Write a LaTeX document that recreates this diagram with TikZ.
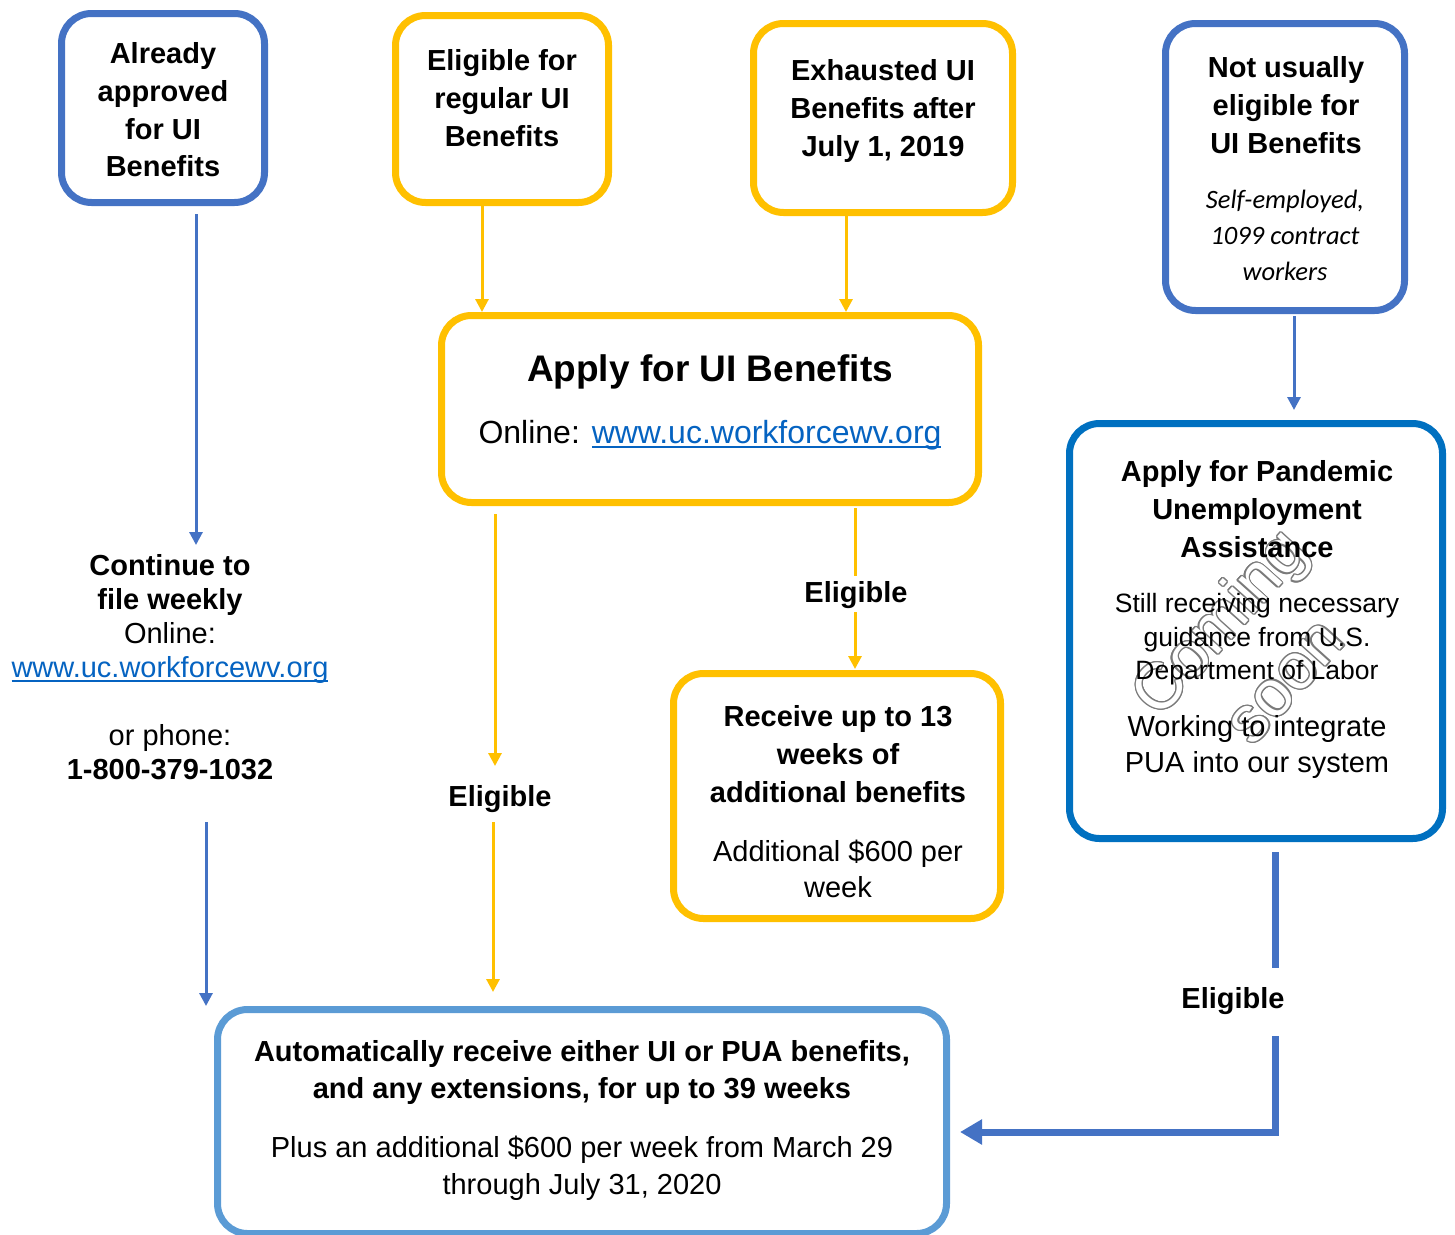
\documentclass[tikz,border=0pt]{standalone}
\usepackage{fontspec}
\setmainfont{Liberation Sans}
\newfontfamily\carl{Carlito}
\usetikzlibrary{arrows.meta}
\definecolor{bblue}{HTML}{4472C4}
\definecolor{gold}{HTML}{FFC000}
\definecolor{dblue}{HTML}{0070C0}
\definecolor{lblue}{HTML}{5B9BD5}
\definecolor{linkc}{HTML}{0563C1}
\definecolor{wmgray}{HTML}{7A7A7A}
\newcommand\ulink[1]{{\setbox0=\hbox{\textcolor{linkc}{#1}}\textcolor{linkc}{\rlap{\vrule height -2.5pt depth 4.5pt width \wd0}}\box0}}
\begin{document}
\begin{tikzpicture}[x=1pt,y=-1pt,
  box/.style={draw, line width=7pt, rounded corners=30pt, inner sep=0pt},
  tb/.style={align=center, inner sep=0pt, anchor=north, font=\fontsize{29}{37.7}\selectfont\bfseries},
  tr/.style={align=center, inner sep=0pt, anchor=north, font=\fontsize{29}{36.5}\selectfont},
  thinarrow/.style={line width=3pt, -{Triangle[width=13pt,length=13pt]}},
  thinline/.style={line width=3pt},
  thickarrow/.style={line width=7pt, line join=miter, -{Triangle[width=24pt,length=22pt]}},
  thickline/.style={line width=7pt}]
\useasboundingbox (0,0) rectangle (1455,1234);

% boxes
\node[box, draw=bblue, minimum width=203pt, minimum height=189pt] (b1) at (163,108) {};
\node[box, draw=gold, minimum width=213pt, minimum height=187pt] (b2) at (502,109) {};
\node[box, draw=gold, minimum width=259pt, minimum height=189pt] (b3) at (883,118) {};
\node[box, draw=bblue, minimum width=239pt, minimum height=287pt] (b4) at (1285,167) {};
\node[box, draw=gold, minimum width=537pt, minimum height=187pt] (b5) at (710,409) {};
\node[box, draw=dblue, minimum width=373pt, minimum height=415pt] (b6) at (1256,631) {};
\node[box, draw=gold, minimum width=327pt, minimum height=245pt] (b7) at (837,796) {};
\node[box, draw=lblue, minimum width=729pt, minimum height=224pt] (b8) at (582,1121.5) {};

% watermark (outlined)
\coordinate (wm) at (1250,650);
\foreach \a in {0,22.5,...,337.5}{
  \node[rotate=48, align=center, inner sep=0pt, text=wmgray, font=\fontsize{65}{88}\selectfont, shift={(\a:1.3)}] at (wm) {Coming\\soon};
}
\node[rotate=48, align=center, inner sep=0pt, text=white, font=\fontsize{65}{88}\selectfont] (wmark) at (wm) {Coming\\soon};

% box texts
\node[tb] (t1) at (163,42.5) {Already\\approved\\for UI\\Benefits};
\node[tb] (t2) at (502,49.5) {Eligible for\\regular UI\\Benefits};
\node[tb] (t3) at (883,59.5) {Exhausted UI\\Benefits after\\July 1, 2019};
\node[tb] (t4) at (1286,56.5) {Not usually\\eligible for\\UI Benefits};
\node[align=center, inner sep=0pt, anchor=north, font=\fontsize{26.5}{36}\selectfont\carl\itshape] (t4i) at (1285,190) {Self-employed,\\1099 contract\\workers};
\node[align=center, inner sep=0pt, anchor=north, font=\fontsize{37}{44}\selectfont\bfseries] (t5a) at (710,354.5) {Apply for UI Benefits};
\node[align=center, inner sep=0pt, anchor=north, font=\fontsize{32}{38}\selectfont] (t5b) at (710,420.5) {Online: \ulink{www.uc.workforcewv.org}};
\node[tb, font=\fontsize{29}{38}\selectfont\bfseries] (t6a) at (1257,460.5) {Apply for Pandemic\\Unemployment\\Assistance};
\node[align=center, inner sep=0pt, anchor=north, font=\fontsize{26.5}{33.5}\selectfont] (t6b) at (1257,593.5) {Still receiving necessary\\guidance from U.S.\\Department of Labor};
\node[tr, font=\fontsize{29}{36}\selectfont] (t6c) at (1257,715.5) {Working to integrate\\PUA into our system};
\node[tb, font=\fontsize{29}{38}\selectfont\bfseries] (t7a) at (838,705.5) {Receive up to 13\\weeks of\\additional benefits};
\node[tr, font=\fontsize{29}{36}\selectfont] (t7b) at (838,839.5) {Additional \$600 per\\week};
\node[tb, font=\fontsize{29}{37}\selectfont\bfseries] (t8a) at (582,1040.5) {Automatically receive either UI or PUA benefits,\\and any extensions, for up to 39 weeks};
\node[tr, font=\fontsize{29}{37}\selectfont] (t8b) at (582,1135.5) {Plus an additional \$600 per week from March 29\\through July 31, 2020};

% left free text
\node[tr, font=\fontsize{29}{34}\selectfont] (cont) at (170,554.5) {\textbf{Continue to}\\\textbf{file weekly}\\Online:\\\ulink{www.uc.workforcewv.org}\\[34pt]\color{black}or phone:\\\textbf{1-800-379-1032}};

% Eligible labels
\node[tb] (e1) at (500,785.5) {Eligible};
\node[tb] (e2) at (856,581.5) {Eligible};
\node[tb] (e3) at (1233,987.5) {Eligible};

% connector coordinates
\coordinate (c1a) at (196,214);
\coordinate (c1b) at (196,545);
\coordinate (c2a) at (206,822);
\coordinate (c2b) at (206,1006);
\coordinate (c3b) at (482,312);
\coordinate (c4a) at (846,216);
\coordinate (c4b) at (846,312);
\coordinate (c5a) at (495,514);
\coordinate (c5b) at (495,766);
\coordinate (c6a) at (493,822);
\coordinate (c6b) at (493,992);
\coordinate (c7a) at (855,508);
\coordinate (c7b) at (855,576);
\coordinate (c7c) at (855,612);
\coordinate (c7d) at (855,669);
\coordinate (c8a) at (1294,316);
\coordinate (c8b) at (1294,410);
\coordinate (c9a) at (1275,852);
\coordinate (c9b) at (1275,968);
\coordinate (c9c) at (1275,1036);
\coordinate (c9d) at (1275,1132);
\coordinate (c9e) at (960,1132);

% connectors
\draw[thinarrow, bblue] (c1a) -- (c1b);
\draw[thinarrow, bblue] (c2a) -- (c2b);
\draw[thinarrow, gold] (b2.south -| c3b) -- (c3b);
\draw[thinarrow, gold] (c4a) -- (c4b);
\draw[thinarrow, gold] (c5a) -- (c5b);
\draw[thinarrow, gold] (c6a) -- (c6b);
\draw[thinline, gold] (c7a) -- (c7b);
\draw[thinarrow, gold] (c7c) -- (c7d);
\draw[thinarrow, bblue] (c8a) -- (c8b);
\draw[thickline, bblue] (c9a) -- (c9b);
\draw[thickarrow, bblue] (c9c) -- (c9d) -- (c9e);
\end{tikzpicture}
\end{document}
